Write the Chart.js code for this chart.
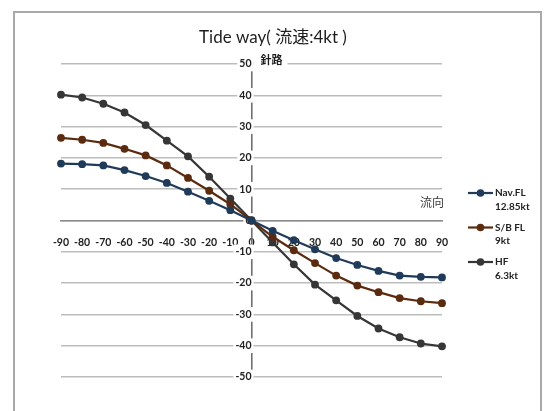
<!DOCTYPE html>
<html>
<head>
<meta charset="utf-8">
<title>Tide way</title>
<script src="https://cdn.jsdelivr.net/npm/chart.js@4/dist/chart.umd.min.js"></script>
<style>
  html, body { margin: 0; padding: 0; background: #fff; }
  #wrap { position: relative; width: 555px; height: 411px; overflow: hidden; }
  canvas { display: block; }
</style>
</head>
<body>
<div id="wrap"><canvas id="tideChart" width="555" height="411"></canvas></div>
<script>
// 流向 (flow direction, deg) and resulting 針路 correction for each boat
const flowAngles = [-90, -80, -70, -60, -50, -40, -30, -20, -10, 0, 10, 20, 30, 40, 50, 60, 70, 80, 90];
const navFL = [18.2, 18.0, 17.6, 16.1, 14.2, 12.0, 9.2, 6.3, 3.3, 0, -3.3, -6.3, -9.2, -12.0, -14.2, -16.1, -17.6, -18.0, -18.2];
const sbFL = [26.4, 25.8, 24.8, 22.9, 20.8, 17.6, 13.6, 9.5, 5.2, 0, -5.2, -9.5, -13.6, -17.6, -20.8, -22.9, -24.8, -25.8, -26.4];
const hfCourse = [40.2, 39.3, 37.3, 34.5, 30.5, 25.5, 20.5, 14.0, 7.0, 0, -7.0, -14.0, -20.5, -25.5, -30.5, -34.5, -37.3, -39.3, -40.2];

const seriesNames = ["Nav.FL", "S/B FL", "HF"];
const seriesSpeeds = ["12.85kt", "9kt", "6.3kt"];

const chartTitle = "Tide way( 流速:4kt )";
const yTitle = "針路";
const xTitle = "流向";

const FONT = "Lato, 'Noto Sans CJK JP', sans-serif";
const colors = ["#1f3b59", "#5b2b0f", "#363636"];

function toPoints(values) {
  return flowAngles.map((a, i) => ({ x: a, y: values[i] }));
}

// frame, titles and the legend on the right
const decorations = {
  id: "decorations",
  beforeDraw(chart) {
    const ctx = chart.ctx;
    ctx.save();
    ctx.fillStyle = "#fff";
    ctx.fillRect(0, 0, chart.width, chart.height);
    ctx.strokeStyle = "#a9a9a9";
    ctx.lineWidth = 2;
    ctx.strokeRect(14, 12, 527, 440);
    ctx.restore();
  },
  afterDraw(chart) {
    const ctx = chart.ctx;
    const xs = chart.scales.x;
    const ys = chart.scales.y;
    ctx.save();

    // main title
    ctx.fillStyle = "#1e1e1e";
    ctx.font = "17px " + FONT;
    ctx.textAlign = "center";
    ctx.textBaseline = "middle";
    ctx.fillText(chartTitle, 273, 38);

    // y axis title sits on top of the 50 line
    const axisX = xs.getPixelForValue(0);
    ctx.fillStyle = "#fff";
    ctx.fillRect(axisX + 2, ys.getPixelForValue(50) - 12, 34, 15);
    ctx.fillStyle = "#1e1e1e";
    ctx.font = "bold 11px " + FONT;
    ctx.textAlign = "left";
    ctx.fillText(yTitle, axisX + 9, 60);

    // x axis title
    ctx.font = "12px " + FONT;
    ctx.fillStyle = "#3c3c3c";
    ctx.textAlign = "center";
    ctx.fillText(xTitle, 432, 203);

    // legend
    chart.data.datasets.forEach((ds, i) => {
      const y = 193 + i * 34.5;
      ctx.strokeStyle = ds.borderColor;
      ctx.lineWidth = 2.2;
      ctx.beginPath();
      ctx.moveTo(468, y);
      ctx.lineTo(493, y);
      ctx.stroke();
      ctx.fillStyle = ds.borderColor;
      ctx.beginPath();
      ctx.arc(480.5, y, 3.8, 0, Math.PI * 2);
      ctx.fill();

      ctx.fillStyle = "#222";
      ctx.font = "bold 10px " + FONT;
      ctx.textAlign = "left";
      ctx.fillText(seriesNames[i], 495, y);
      ctx.fillText(seriesSpeeds[i], 495, y + 13.5);
    });

    ctx.restore();
  }
};

const datasets = [navFL, sbFL, hfCourse].map((vals, i) => ({
  label: seriesNames[i] + " " + seriesSpeeds[i],
  data: toPoints(vals),
  borderColor: colors[i],
  backgroundColor: colors[i],
  borderWidth: 2.2,
  pointRadius: 3.9,
  pointBorderWidth: 0,
  tension: 0,
  clip: false
}));

const tickFont = { family: FONT, size: 10.5, weight: "bold" };

new Chart(document.getElementById("tideChart"), {
  type: "line",
  data: { datasets },
  options: {
    responsive: false,
    animation: false,
    devicePixelRatio: 1,
    layout: { padding: { left: 61, right: 113, top: 64, bottom: 34 } },
    plugins: {
      legend: { display: false },
      title: { display: false },
      tooltip: { enabled: false }
    },
    scales: {
      x: {
        type: "linear",
        min: -90,
        max: 90,
        position: { y: 0 },
        ticks: {
          stepSize: 10,
          autoSkip: false,
          maxRotation: 0,
          padding: 8,
          color: "#222",
          font: tickFont
        },
        grid: { display: false },
        border: { color: "#8a8a8a", width: 1.6 }
      },
      y: {
        type: "linear",
        min: -50,
        max: 50,
        position: { x: 0 },
        ticks: {
          stepSize: 10,
          padding: 10,
          color: "#222",
          font: tickFont,
          showLabelBackdrop: true,
          backdropColor: "#fff",
          backdropPadding: { x: 2, y: 1 }
        },
        grid: { color: "#bdbdbd", lineWidth: 1.6, drawTicks: false },
        border: { color: "#707070", width: 1.6 }
      }
    }
  },
  plugins: [decorations]
});
</script>
</body>
</html>
